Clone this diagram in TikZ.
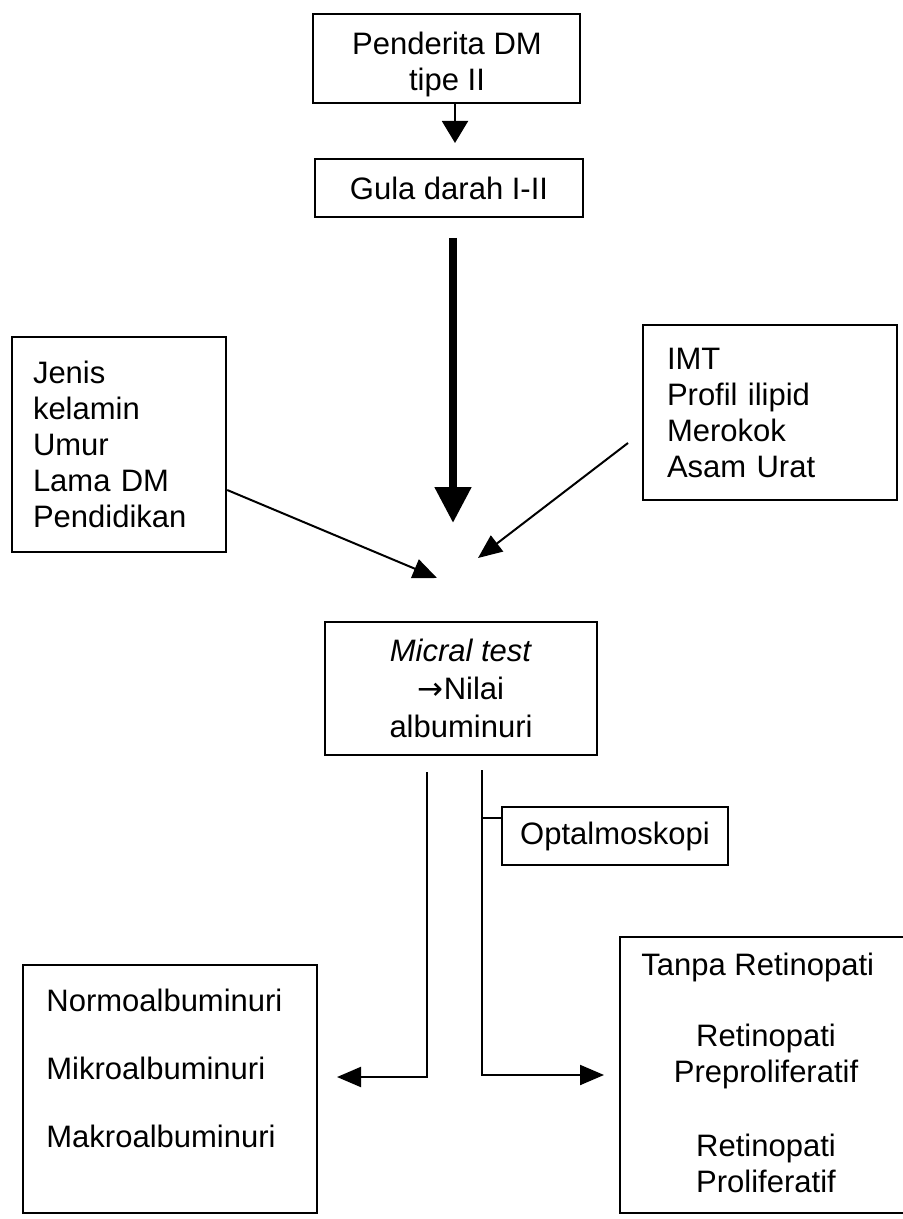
\documentclass[tikz,border=0pt]{standalone}
\usepackage{fontspec}
\setmainfont{Liberation Sans}
\newfontfamily\arrowfont{DejaVu Sans}
\usetikzlibrary{arrows.meta,calc}
\begin{document}
\begin{tikzpicture}[x=0.5pt,y=-0.5pt,
  every node/.style={font=\fontsize{15.5}{18}\selectfont},
  box/.style={draw, line width=1.2pt, inner sep=0pt},
  txt/.style={inner sep=0pt},
  conn/.style={line width=1pt},
  tri/.style={-{Triangle[length=12pt,width=10pt]}}
]
\useasboundingbox (0,0) rectangle (902,1219);

% boxes
\node[box, minimum width=133.5pt, minimum height=44.5pt] (pend) at (446.5,58.5) {};
\node[txt, align=center] (pendtext) at (447,64) {Penderita DM\\tipe II};
\node[box, minimum width=134pt, minimum height=29pt] (gula) at (449,188) {Gula darah I-II};
\node[box, text width=86pt, inner xsep=10.5pt, minimum height=107.5pt, align=left] (jenis) at (119,444.5) {Jenis\\kelamin\\Umur\\Lama DM\\Pendidikan};
\node[box, text width=103pt, inner xsep=12pt, minimum height=87.5pt, align=left] (imt) at (770,412.5) {IMT\\Profil ilipid\\Merokok\\Asam Urat};
\node[box, minimum width=136pt, minimum height=66.5pt, align=center, font=\fontsize{15.5}{19}\selectfont] (micral) at (461,688.5) {\textit{Micral test}\\{\arrowfont →}Nilai\\albuminuri};
\node[box, minimum width=113pt, minimum height=29pt] (optal) at (615,836) {Optalmoskopi};
\node[box, minimum width=147pt, minimum height=124pt] (normo) at (170,1089) {};
\node[txt, anchor=west, align=left, font=\fontsize{15.5}{34}\selectfont] (normotext) at (46,1068.5) {Normoalbuminuri\\Mikroalbuminuri\\Makroalbuminuri};
\node[box, minimum width=147.5pt, minimum height=138pt] (retino) at (767.5,1075) {};
\node[txt, anchor=west] (tanpa) at (641,967) {Tanpa Retinopati};
\node[txt, align=center] (prepro) at (766,1056.5) {Retinopati\\Preproliferatif};
\node[txt, align=center] (prolif) at (766,1163.5) {Retinopati\\Proliferatif};

% coordinates for free ends
\coordinate (a1) at (455,143);
\coordinate (t1) at (453,238);
\coordinate (t2) at (453,523);
\coordinate (js) at (227,490);
\coordinate (jt) at (437,578);
\coordinate (is) at (628,443);
\coordinate (it) at (478,558);
\coordinate (l0) at (427,772);
\coordinate (ltip) at (337,1077);
\coordinate (r0) at (482,770);
\coordinate (rtip) at (604,1075);
\coordinate (os) at (482,818);

% connectors
\draw[conn, -{Triangle[length=11pt,width=13pt]}] (pend.south -| a1) -- (a1);
\draw[line width=4pt, -{Triangle[length=18pt,width=17.5pt]}] (t1) -- (t2);
\draw[conn, tri] (jenis.east |- js) -- (jt);
\draw[conn, tri] (is) -- (it);
\draw[conn, tri] (l0) |- (ltip);
\draw[conn, tri] (r0) |- (rtip);
\draw[conn] (os) -- (os -| optal.west);
\end{tikzpicture}
\end{document}
